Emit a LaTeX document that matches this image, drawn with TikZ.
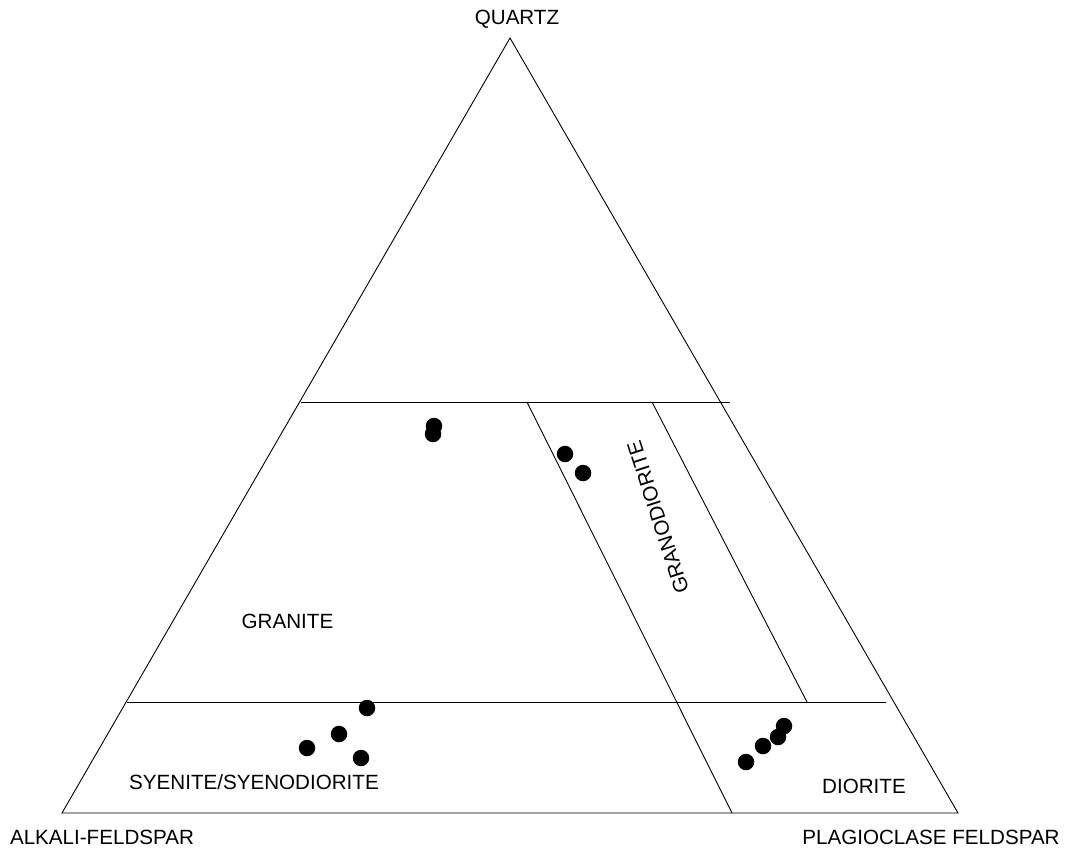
\documentclass[tikz,border=0pt]{standalone}
\usepackage{fontspec}
\setmainfont{Liberation Sans}
\begin{document}
\begin{tikzpicture}[x=1pt,y=-1pt,
  edge/.style={line width=0.9pt,black},
  lbl/.style={inner sep=0pt,font=\fontsize{20.6}{24}\selectfont},
  dot/.style={circle,fill=black,inner sep=0pt,minimum size=16.5pt}]
\useasboundingbox (0,0) rectangle (1065,852);
% triangle corners
\coordinate (Q) at (510,38);
\coordinate (A) at (62,813);
\coordinate (P) at (958,813);
\draw[edge] (Q) -- (A) -- (P) -- cycle;
% horizontal field lines
\coordinate (h1a) at (301,402);
\coordinate (h1b) at (730,402);
\coordinate (h2a) at (127,702);
\coordinate (h2b) at (886,702);
\draw[edge] (h1a) -- (h1b);
\draw[edge] (h2a) -- (h2b);
% slanted field lines
\coordinate (s1a) at (527,402);
\coordinate (s1b) at (732,813);
\coordinate (s2a) at (652,402);
\coordinate (s2b) at (807,702);
\draw[edge] (s1a) -- (s1b);
\draw[edge] (s2a) -- (s2b);
% labels
\node[lbl] (lq) at (517,19.5) {QUARTZ};
\node[lbl] (la) at (102,837.5) {ALKALI-FELDSPAR};
\node[lbl] (lp) at (931,837) {PLAGIOCLASE FELDSPAR};
\node[lbl] (lg) at (287.5,621) {GRANITE};
\node[lbl] (ls) at (254,782) {SYENITE/SYENODIORITE};
\node[lbl] (ld) at (864,786) {DIORITE};
\node[lbl,rotate=108] (lgd) at (658,517) {GRANODIORITE};
% data points
\node[dot] (d1) at (434,426) {};
\node[dot] (d2) at (433,434) {};
\node[dot] (d3) at (565,454) {};
\node[dot] (d4) at (583,473) {};
\node[dot] (d5) at (367,708) {};
\node[dot] (d6) at (339,734) {};
\node[dot] (d7) at (307,748) {};
\node[dot] (d8) at (361,758) {};
\node[dot] (d9) at (784,726) {};
\node[dot] (d10) at (778,737) {};
\node[dot] (d11) at (763,746) {};
\node[dot] (d12) at (746,762) {};
\end{tikzpicture}
\end{document}
